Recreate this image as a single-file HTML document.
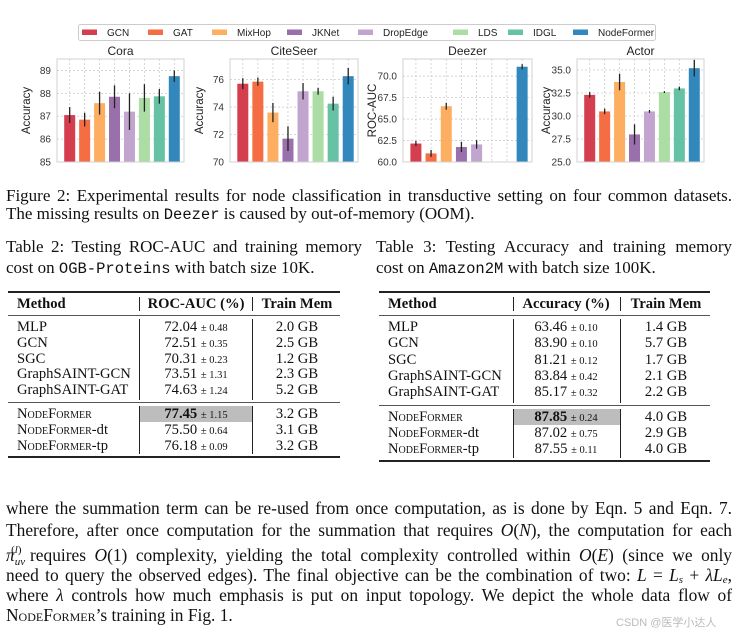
<!DOCTYPE html>
<html><head><meta charset="utf-8">
<style>
body{margin:0;background:#fff;width:740px;height:635px;position:relative;overflow:hidden;font-family:"Liberation Serif",serif;color:#111}
.ln{position:absolute;left:6px;width:726px;font-size:17.4px;line-height:20px;text-align:justify;text-align-last:justify;white-space:nowrap}
.ln2{position:absolute;font-size:17.4px;line-height:20px;white-space:nowrap}
.cap{font-size:17px}
.tt{font-family:"Liberation Mono",monospace;font-size:15.5px}
.sc{font-variant:small-caps}
.tb{position:absolute;font-size:14.6px;line-height:16px;white-space:nowrap}
.rule{position:absolute;background:#222}
.sep{position:absolute;width:1px;background:#222}
.pm{font-size:10.5px}
i{font-style:italic}
.sub{position:relative;font-size:11px;top:4px}
.sup{position:relative;font-size:11px;top:-8px}
</style></head><body>
<svg id="chart" width="740" height="180" style="position:absolute;left:0;top:0" font-family="Liberation Sans, DejaVu Sans, sans-serif"></svg>

<div class="ln cap" style="top:186px">Figure 2: Experimental results for node classification in transductive setting on four common datasets.</div>
<div class="ln2 cap" style="top:204px;left:6px">The missing results on <span class="tt">Deezer</span> is caused by out-of-memory (OOM).</div>

<div class="ln2 cap" style="top:237px;left:6px;width:356px;text-align:justify;text-align-last:justify">Table 2: Testing ROC-AUC and training memory</div>
<div class="ln2 cap" style="top:258px;left:6px">cost on <span class="tt">OGB-Proteins</span> with batch size 10K.</div>
<div class="ln2 cap" style="top:237px;left:376px;width:356px;text-align:justify;text-align-last:justify">Table 3: Testing Accuracy and training memory</div>
<div class="ln2 cap" style="top:258px;left:376px">cost on <span class="tt">Amazon2M</span> with batch size 100K.</div>

<div id="tables"></div>

<div class="ln" style="top:498px">where the summation term can be re-used from once computation, as is done by Eqn. 5 and Eqn. 7.</div>
<div class="ln" style="top:520px">Therefore, after once computation for the summation that requires <i>O</i>(<i>N</i>), the computation for each</div>
<div class="ln" style="top:545px;height:20px;overflow:visible"><i>π</i><span class="sub"><i>uv</i></span><span class="sup" style="margin-left:-14px">(<i>l</i>)</span> requires <i>O</i>(1) complexity, yielding the total complexity controlled within <i>O</i>(<i>E</i>) (since we only</div>
<div class="ln" style="top:565px">need to query the observed edges). The final objective can be the combination of two: <i>L</i> = <i>L</i><span class="sub" style="top:2px"><i>s</i></span> + <i>λL</i><span class="sub" style="top:2px"><i>e</i></span>,</div>
<div class="ln" style="top:585px">where <i>λ</i> controls how much emphasis is put on input topology. We depict the whole data flow of</div>
<div class="ln2" style="top:605px;left:6px"><span class="sc">NodeFormer</span>’s training in Fig. 1.</div>
<div style="position:absolute;left:616px;top:614px;font-family:'Liberation Sans','Noto Sans CJK SC',sans-serif;font-size:11px;color:#bbb">CSDN @医学小达人</div>

<script>
const methods=["GCN","GAT","MixHop","JKNet","DropEdge","LDS","IDGL","NodeFormer"];
const colors=["#d53e4f","#f46d43","#fdae61","#9970ab","#c2a5cf","#abdda4","#66c2a5","#3288bd"];
const coraVals=[87.05,86.85,87.57,87.85,87.2,87.8,87.87,88.75];
const coraErrs=[0.35,0.3,0.5,0.5,0.8,0.6,0.32,0.25];
const citeVals=[75.7,75.85,73.6,71.7,75.15,75.15,74.25,76.25];
const citeErrs=[0.4,0.3,0.7,0.9,0.6,0.25,0.5,0.6];
const deezerVals=[62.15,61.0,66.5,61.75,62.05,null,null,71.1];
const deezerErrs=[0.3,0.4,0.4,0.6,0.5,null,null,0.3];
const actorVals=[32.3,30.5,33.7,28.0,30.5,32.6,33.0,35.2];
const actorErrs=[0.3,0.3,0.9,1.1,0.15,0.1,0.2,0.9];
const coraTicks=[85,86,87,88,89];
const citeTicks=[70,72,74,76];
const deezerTicks=[60,62.5,65,67.5,70];
const actorTicks=[25,27.5,30,32.5,35];

const svg=document.getElementById('chart');
const NS="http://www.w3.org/2000/svg";
function mk(tag,attrs,parent){const e=document.createElementNS(NS,tag);for(const k in attrs)e.setAttribute(k,attrs[k]);(parent||svg).appendChild(e);return e;}

function panel(id,x0,x1,y0,y1,min,max,ticks,vals,errs,title,ylabel,dec){
  const g=mk('g',{});
  
  
  const ys=v=>y1-(v-min)/(max-min)*(y1-y0);
  const step=(x1-x0)/8.5;
  const xs=i=>x0+step*(0.85+i);
  ticks.forEach(t=>{
    const l=mk('line',{x1:x0,x2:x1,y1:ys(t),y2:ys(t),stroke:'#ccc','stroke-dasharray':'2,2','stroke-width':0.8},g);
    
    
    const tx=mk('text',{x:x0-6,y:ys(t)+3.5,'text-anchor':'end','font-size':10,fill:'#333'},g);
    tx.textContent=t.toFixed(dec);
    
    
  });
  methods.forEach((m,i)=>{
    mk('line',{x1:xs(i),x2:xs(i),y1:y0,y2:y1,stroke:'#ccc','stroke-dasharray':'2,2','stroke-width':0.8},g);
  });
  vals.forEach((v,i)=>{
    if(v===null)return;
    const r=mk('rect',{x:xs(i)-5.5,y:ys(v),width:11,height:y1-ys(v),fill:colors[i]},g);
    
    
    const e=mk('line',{x1:xs(i),x2:xs(i),y1:ys(v-errs[i]),y2:ys(v+errs[i]),stroke:'#222','stroke-width':1.3},g);
    
    
  });
  mk('rect',{x:x0,y:y0,width:x1-x0,height:y1-y0,fill:'none',stroke:'#d0d0d0','stroke-width':1},g);
  const t=mk('text',{x:(x0+x1)/2,y:y0-4,'text-anchor':'middle','font-size':12,fill:'#222'},g);
  t.textContent=title;
  
  
  const yl=mk('text',{x:0,y:0,'text-anchor':'middle','font-size':11.5,fill:'#222',transform:`translate(${x0-27},${(y0+y1)/2}) rotate(-90)`},g);
  yl.textContent=ylabel;
  
  
}
panel('cora',57,184,59,162,85,89.5,coraTicks,coraVals,coraErrs,'Cora','Accuracy',0);
panel('citeseer',230,358,59,162,70,77.5,citeTicks,citeVals,citeErrs,'CiteSeer','Accuracy',0);
panel('deezer',403,532,59,162,60,72,deezerTicks,deezerVals,deezerErrs,'Deezer','ROC-AUC',1);
panel('actor',577,704,59,162,25,36.2,actorTicks,actorVals,actorErrs,'Actor','Accuracy',1);

const lg=mk('g',{});


mk('rect',{x:78.5,y:24.5,width:577,height:16,rx:2,fill:'#fff',stroke:'#ccc'},lg);
const lx=[82,148,212,287,358,453,508,573];
methods.forEach((m,i)=>{
  const s=mk('rect',{x:lx[i],y:29.5,width:15,height:5.5,fill:colors[i]},lg);
  
  
  const t=mk('text',{x:lx[i]+25,y:36,'font-size':10,fill:'#222'},lg);
  t.textContent=m;
  
  
});

const t2Methods=["MLP","GCN","SGC","GraphSAINT-GCN","GraphSAINT-GAT"];
const t2Vals=["72.04","72.51","70.31","73.51","74.63"];
const t2Errs=["0.48","0.35","0.23","1.31","1.24"];
const t2Mem=["2.0 GB","2.5 GB","1.2 GB","2.3 GB","5.2 GB"];
const t2NfVals=["77.45","75.50","76.18"];
const t2NfErrs=["1.15","0.64","0.09"];
const t2NfMem=["3.2 GB","3.1 GB","3.2 GB"];
const t3Vals=["63.46","83.90","81.21","83.84","85.17"];
const t3Errs=["0.10","0.10","0.12","0.42","0.32"];
const t3Mem=["1.4 GB","5.7 GB","1.7 GB","2.1 GB","2.2 GB"];
const t3NfVals=["87.85","87.02","87.55"];
const t3NfErrs=["0.24","0.75","0.11"];
const t3NfMem=["4.0 GB","2.9 GB","4.0 GB"];
const nfNames=['<span class="sc">NodeFormer</span>','<span class="sc">NodeFormer</span>-dt','<span class="sc">NodeFormer</span>-tp'];

function table(id,x0,x1,top,sep1,sep2,c2,c3,head2,vals,errs,mem,nv,ne,nm,rowGap){
  const box=document.getElementById('tables');
  let h='';
  h+=`<div class="rule" style="left:${x0}px;width:${x1-x0}px;top:${top}px;height:1.5px"></div>`;
  h+=`<div class="tb" style="left:${x0+9}px;top:${top+5}px;font-weight:bold">Method</div>`;
  h+=`<div class="tb" style="left:${c2-60}px;width:120px;text-align:center;top:${top+5}px;font-weight:bold">${head2}</div>`;
  h+=`<div class="tb" style="left:${c3-50}px;width:100px;text-align:center;top:${top+5}px;font-weight:bold">Train Mem</div>`;
  h+=`<div class="rule" style="left:${x0}px;width:${x1-x0}px;top:${top+24}px;height:1px;background:#555"></div>`;
  const rows=[];
  t2Methods.forEach((m,i)=>rows.push([m,vals[i],errs[i],mem[i],top+28+i*rowGap,false]));
  const mid=top+28+5*rowGap+4;
  h+=`<div class="rule" style="left:${x0}px;width:${x1-x0}px;top:${mid}px;height:1px;background:#555"></div>`;
  nfNames.forEach((m,i)=>rows.push([m,nv[i],ne[i],nm[i],mid+4+i*rowGap,i===0]));
  rows.forEach(r=>{
    if(r[5])h+=`<div style="position:absolute;left:${sep1+1}px;width:${sep2-sep1-1}px;top:${r[4]}px;height:16px;background:#bdbdbd"></div>`;
    h+=`<div class="tb" style="left:${x0+9}px;top:${r[4]}px">${r[0]}</div>`;
    h+=`<div class="tb" style="left:${c2-60}px;width:120px;text-align:center;top:${r[4]}px"><span style="${r[5]?'font-weight:bold':''}">${r[1]}</span> <span class="pm">± ${r[2]}</span></div>`;
    h+=`<div class="tb" style="left:${c3-50}px;width:100px;text-align:center;top:${r[4]}px">${r[3]}</div>`;
  });
  const bot=mid+4+3*rowGap+3;
  h+=`<div class="rule" style="left:${x0}px;width:${x1-x0}px;top:${bot}px;height:1.5px"></div>`;
  h+=`<div class="sep" style="left:${sep1}px;top:${top+6}px;height:14px"></div>`;
  h+=`<div class="sep" style="left:${sep2}px;top:${top+6}px;height:14px"></div>`;
  h+=`<div class="sep" style="left:${sep1}px;top:${top+28}px;height:${mid-top-30}px"></div>`;
  h+=`<div class="sep" style="left:${sep2}px;top:${top+28}px;height:${mid-top-30}px"></div>`;
  h+=`<div class="sep" style="left:${sep1}px;top:${mid+4}px;height:${bot-mid-6}px"></div>`;
  h+=`<div class="sep" style="left:${sep2}px;top:${mid+4}px;height:${bot-mid-6}px"></div>`;
  const d=document.createElement('div');
  
  
  d.innerHTML=h;box.appendChild(d);
}
table('table-2',8,340,291,139,252,196,297,'ROC-AUC (%)',t2Vals,t2Errs,t2Mem,t2NfVals,t2NfErrs,t2NfMem,15.8);
table('table-3',379,710,291,513,620,566,666,'Accuracy (%)',t3Vals,t3Errs,t3Mem,t3NfVals,t3NfErrs,t3NfMem,16.3);
</script>
</body></html>
